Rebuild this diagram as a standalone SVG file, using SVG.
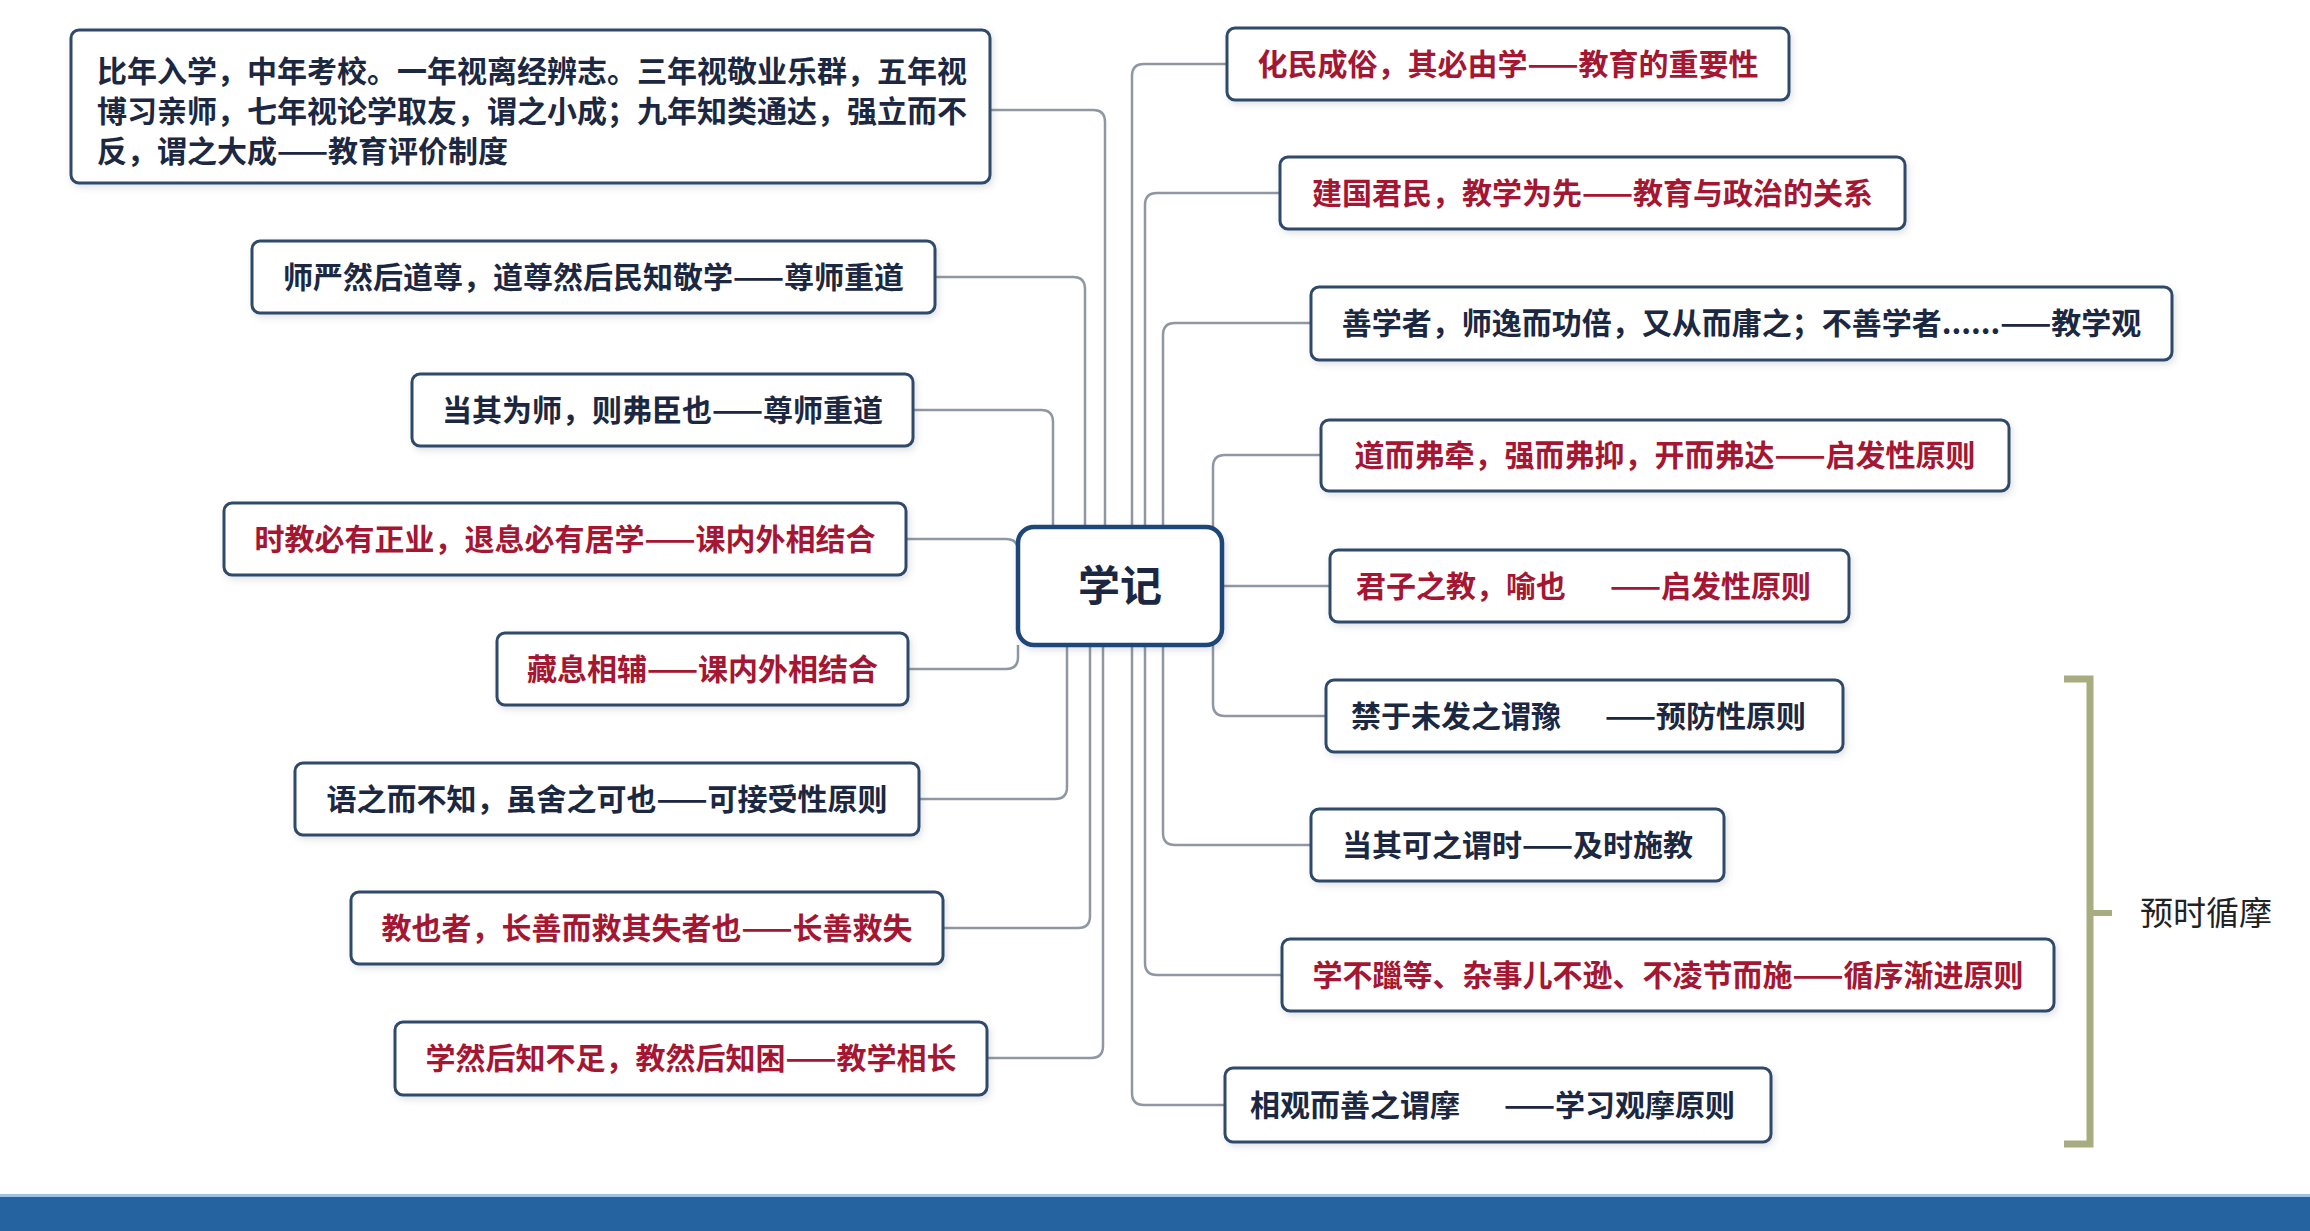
<svg xmlns="http://www.w3.org/2000/svg" width="2310" height="1231" viewBox="0 0 2310 1231">
<defs>
<filter id="sh" x="-5%" y="-20%" width="110%" height="150%">
<feDropShadow dx="2" dy="3" stdDeviation="3" flood-color="#506070" flood-opacity="0.18"/>
</filter>
<style>
.box{fill:#ffffff;stroke:#2e4a6b;stroke-width:3;filter:url(#sh)}
.center{fill:#ffffff;stroke:#1f4778;stroke-width:4.5;filter:url(#sh)}
.t{font-family:"Noto Sans CJK SC","Noto Sans",sans-serif;font-weight:700;font-size:30px}
.d{fill:#1c2841}
.r{fill:#a51632}
.c{fill:none;stroke:#8e97a2;stroke-width:2.5}
</style>
</defs>
<rect x="0" y="0" width="2310" height="1231" fill="#ffffff"/>

<g id="connectors">
<path class="c" d="M990 110 H1093 Q1105 110 1105 122 V527"/>
<path class="c" d="M935 277 H1073 Q1085 277 1085 289 V527"/>
<path class="c" d="M913 410 H1041 Q1053 410 1053 422 V527"/>
<path class="c" d="M906 539 H1006 Q1018 539 1018 551"/>
<path class="c" d="M908 669 H1006 Q1018 669 1018 657 V645"/>
<path class="c" d="M919 799 H1055 Q1067 799 1067 787 V645"/>
<path class="c" d="M943 928 H1078 Q1090 928 1090 916 V645"/>
<path class="c" d="M987 1058 H1091 Q1103 1058 1103 1046 V645"/>
<path class="c" d="M1227 64 H1144 Q1132 64 1132 76 V527"/>
<path class="c" d="M1280 193 H1157 Q1145 193 1145 205 V527"/>
<path class="c" d="M1311 323 H1175 Q1163 323 1163 335 V527"/>
<path class="c" d="M1321 455 H1225 Q1213 455 1213 467 V527"/>
<path class="c" d="M1222 586 H1330"/>
<path class="c" d="M1326 716 H1225 Q1213 716 1213 704 V645"/>
<path class="c" d="M1311 845 H1175 Q1163 845 1163 833 V645"/>
<path class="c" d="M1282 975 H1157 Q1145 975 1145 963 V645"/>
<path class="c" d="M1225 1105 H1144 Q1132 1105 1132 1093 V645"/>
</g>

<g id="center">
<rect class="center" x="1018" y="527" width="204" height="118" rx="16"/>
<text class="t d" x="1120" y="601" font-size="42" style="font-size:42px" text-anchor="middle">学记</text>
</g>

<g id="L1">
<rect class="box" x="71" y="30" width="919" height="153" rx="8"/>
<text class="t d" x="97" y="82">比年入学，中年考校。一年视离经辨志。三年视敬业乐群，五年视</text>
<text class="t d" x="97" y="122">博习亲师，七年视论学取友，谓之小成；九年知类通达，强立而不</text>
<text class="t d" x="97" y="162">反，谓之大成——教育评价制度</text>
</g>
<g id="L2">
<rect class="box" x="252" y="241" width="683" height="72" rx="8"/>
<text class="t d" x="593.5" y="288" text-anchor="middle">师严然后道尊，道尊然后民知敬学——尊师重道</text>
</g>
<g id="L3">
<rect class="box" x="412" y="374" width="501" height="72" rx="8"/>
<text class="t d" x="662.5" y="421" text-anchor="middle">当其为师，则弗臣也——尊师重道</text>
</g>
<g id="L4">
<rect class="box" x="224" y="503" width="682" height="72" rx="8"/>
<text class="t r" x="565" y="550" text-anchor="middle">时教必有正业，退息必有居学——课内外相结合</text>
</g>
<g id="L5">
<rect class="box" x="497" y="633" width="411" height="72" rx="8"/>
<text class="t r" x="702.5" y="680" text-anchor="middle">藏息相辅——课内外相结合</text>
</g>
<g id="L6">
<rect class="box" x="295" y="763" width="624" height="72" rx="8"/>
<text class="t d" x="607" y="810" text-anchor="middle">语之而不知，虽舍之可也——可接受性原则</text>
</g>
<g id="L7">
<rect class="box" x="351" y="892" width="592" height="72" rx="8"/>
<text class="t r" x="647" y="939" text-anchor="middle">教也者，长善而救其失者也——长善救失</text>
</g>
<g id="L8">
<rect class="box" x="395" y="1022" width="592" height="73" rx="8"/>
<text class="t r" x="691" y="1069" text-anchor="middle">学然后知不足，教然后知困——教学相长</text>
</g>

<g id="R1">
<rect class="box" x="1227" y="28" width="562" height="72" rx="8"/>
<text class="t r" x="1508" y="75" text-anchor="middle">化民成俗，其必由学——教育的重要性</text>
</g>
<g id="R2">
<rect class="box" x="1280" y="157" width="625" height="72" rx="8"/>
<text class="t r" x="1592.5" y="204" text-anchor="middle">建国君民，教学为先——教育与政治的关系</text>
</g>
<g id="R3">
<rect class="box" x="1311" y="287" width="861" height="73" rx="8"/>
<text class="t d" x="1741.5" y="334" text-anchor="middle">善学者，师逸而功倍，又从而庸之；不善学者......——教学观</text>
</g>
<g id="R4">
<rect class="box" x="1321" y="420" width="688" height="71" rx="8"/>
<text class="t r" x="1665" y="466" text-anchor="middle">道而弗牵，强而弗抑，开而弗达——启发性原则</text>
</g>
<g id="R5">
<rect class="box" x="1330" y="550" width="519" height="72" rx="8"/>
<text class="t r" x="1356" y="597">君子之教，喻也<tspan dx="44">——启发性原则</tspan></text>
</g>
<g id="R6">
<rect class="box" x="1326" y="680" width="517" height="72" rx="8"/>
<text class="t d" x="1351" y="727">禁于未发之谓豫<tspan dx="44">——预防性原则</tspan></text>
</g>
<g id="R7">
<rect class="box" x="1311" y="809" width="413" height="72" rx="8"/>
<text class="t d" x="1517.5" y="856" text-anchor="middle">当其可之谓时——及时施教</text>
</g>
<g id="R8">
<rect class="box" x="1282" y="939" width="772" height="72" rx="8"/>
<text class="t r" x="1668" y="986" text-anchor="middle">学不躐等、杂事儿不逊、不凌节而施——循序渐进原则</text>
</g>
<g id="R9">
<rect class="box" x="1225" y="1068" width="546" height="74" rx="8"/>
<text class="t d" x="1250" y="1116">相观而善之谓摩<tspan dx="44">——学习观摩原则</tspan></text>
</g>

<g id="bracket">
<path d="M2064 679 H2090 V1144 H2064" fill="none" stroke="#a7ad80" stroke-width="7"/>
<path d="M2090 913 H2112" fill="none" stroke="#a7ad80" stroke-width="6"/>
<text x="2140" y="925" style="font-family:'Noto Sans CJK SC','Noto Sans',sans-serif;font-size:33px;fill:#222222">预时循摩</text>
</g>

<rect x="0" y="1194" width="2310" height="3" fill="#9cc3e6"/>
<rect x="0" y="1197" width="2310" height="34" fill="#2562a0"/>
</svg>
